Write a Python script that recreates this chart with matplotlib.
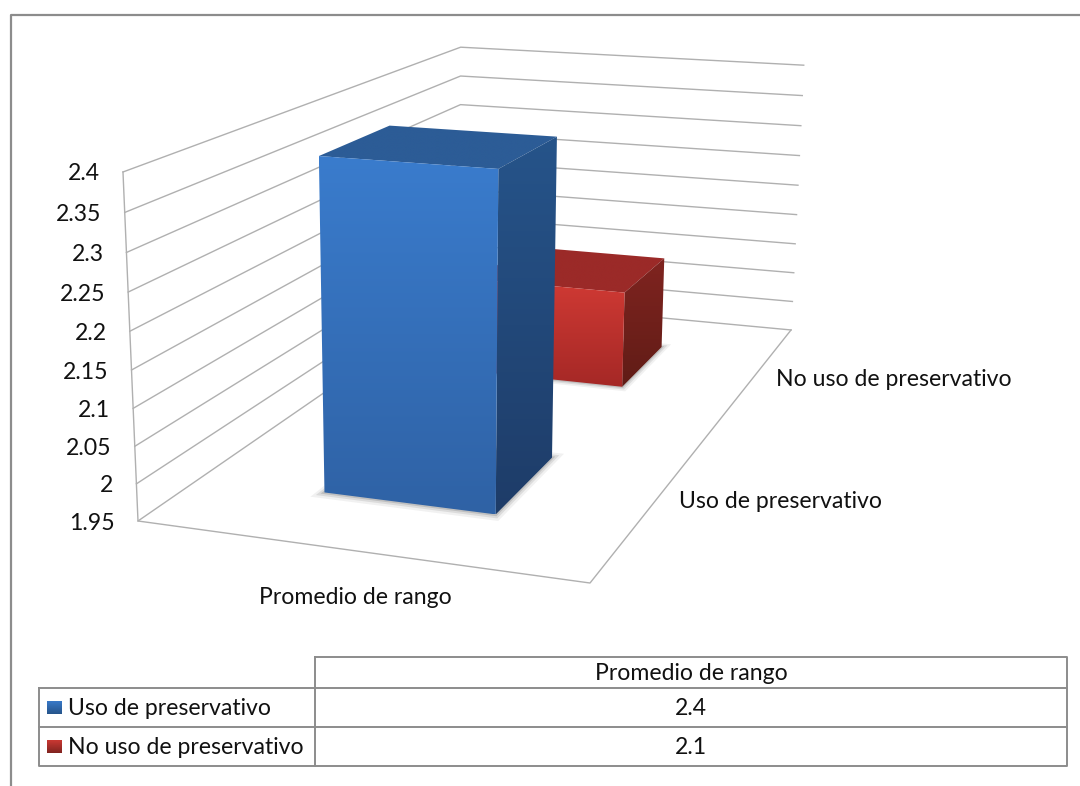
import numpy as np
import matplotlib
matplotlib.use('Agg')
import matplotlib.pyplot as plt
from matplotlib.patches import Polygon

plt.rcParams['font.family'] = ['Lato', 'DejaVu Sans']

series = ['Uso de preservativo', 'No uso de preservativo']
category = 'Promedio de rango'
values = [2.4, 2.1]
value_labels = ['2.4', '2.1']
axis_ticks = [1.95, 2.0, 2.05, 2.1, 2.15, 2.2, 2.25, 2.3, 2.35, 2.4]
axis_tick_labels = ['1.95', '2', '2.05', '2.1', '2.15', '2.2', '2.25', '2.3', '2.35', '2.4']

V_MIN, V_MAX = axis_ticks[0], axis_ticks[-1]

# perspective camera: (u, depth, height, 1) -> homogeneous canvas position
CAMERA = np.array([
    [409.3, 510.4, -20.8, 138.0],
    [19.8, -99.6, -357.1, 521.0],
    [-0.0724, 0.4095, -0.047, 1.0],
])


def project(u, d, v):
    w = (v - V_MIN) / (V_MAX - V_MIN)
    x, y, s = CAMERA @ np.array([u, d, w, 1.0])
    return x / s, y / s


def shaded_face(ax, corners, top_colour, bottom_colour, zorder):
    # vertical gradient clipped to a polygon
    corners = np.array(corners)
    top = np.array(top_colour) / 255
    bottom = np.array(bottom_colour) / 255
    grad = np.linspace(top, bottom, 256).reshape(256, 1, 3)
    face = Polygon(corners, closed=True, transform=ax.transData, fc='none', ec='none')
    ax.add_patch(face)
    im = ax.imshow(grad, extent=[corners[:, 0].min(), corners[:, 0].max(),
                                 corners[:, 1].max(), corners[:, 1].min()],
                   aspect='auto', interpolation='bilinear', zorder=zorder)
    im.set_clip_path(face)


def draw_bar(ax, value, depth, colours, zorder):
    u0, u1 = 0.30, 0.70
    d0, d1 = depth - 0.10, depth + 0.10

    # soft shadow on the floor
    for grow, alpha in [(0.018, 0.07), (0.011, 0.12), (0.005, 0.18)]:
        shadow = [project(u0 - grow, d0 - grow, V_MIN), project(u1 + grow, d0 - grow, V_MIN),
                  project(u1 + grow, d1 + grow, V_MIN), project(u0 - grow, d1 + grow, V_MIN)]
        ax.add_patch(Polygon(shadow, closed=True, fc='#404040', ec='none', alpha=alpha, zorder=zorder))

    front = [project(u0, d0, value), project(u1, d0, value),
             project(u1, d0, V_MIN), project(u0, d0, V_MIN)]
    side = [project(u1, d0, value), project(u1, d1, value),
            project(u1, d1, V_MIN), project(u1, d0, V_MIN)]
    top = [project(u0, d0, value), project(u1, d0, value),
           project(u1, d1, value), project(u0, d1, value)]
    shaded_face(ax, top, colours['top'], colours['top'], zorder + 0.1)
    shaded_face(ax, side, colours['side_hi'], colours['side_lo'], zorder + 0.1)
    shaded_face(ax, front, colours['front_hi'], colours['front_lo'], zorder + 0.2)


fig = plt.figure(figsize=(10.8, 7.86), dpi=100)
ax = fig.add_axes([0, 0, 1, 1])

GRID = '#b0b0b0'
BORDER = '#8c8c8c'
TEXT = '#111111'
FS = 16.6

# chart border, only the top and left edges are drawn
ax.plot([1080, 11, 11], [15, 15, 786], color=BORDER, lw=1.6, zorder=1)

# walls and floor
for tick in axis_ticks:
    pts = np.array([project(0, 0, tick), project(0, 1, tick), project(1, 1, tick)])
    ax.plot(pts[:, 0], pts[:, 1], color=GRID, lw=1.0, zorder=2)
pts = np.array([project(0, 0, V_MAX), project(0, 0, V_MIN), project(1, 0, V_MIN), project(1, 1, V_MIN)])
ax.plot(pts[:, 0], pts[:, 1], color=GRID, lw=1.0, zorder=2)

blue = {'top': (44, 92, 150), 'side_hi': (38, 84, 138), 'side_lo': (30, 60, 104),
        'front_hi': (58, 124, 205), 'front_lo': (47, 98, 165)}
red = {'top': (155, 42, 40), 'side_hi': (128, 36, 32), 'side_lo': (96, 28, 22),
       'front_hi': (208, 58, 52), 'front_lo': (165, 40, 38)}

draw_bar(ax, values[1], 0.75, red, 3)
draw_bar(ax, values[0], 0.25, blue, 4)

# value axis labels follow the slanted edge
for tick, label in zip(axis_ticks, axis_tick_labels):
    x, y = project(0, 0, tick)
    ax.text(x - 23, y + 2, label, ha='right', va='center', fontsize=FS, color=TEXT)

# category and depth labels
ax.text(355, 597, category, ha='center', va='center', fontsize=FS, color=TEXT)
ax.text(679, 502, series[0], ha='left', va='center', fontsize=FS, color=TEXT)
ax.text(776, 379, series[1], ha='left', va='center', fontsize=FS, color=TEXT)

# data table
tbl_left, tbl_key, tbl_right = 39, 315, 1067
tbl_rows = [657, 688, 727, 766]
ax.plot([tbl_key, tbl_right, tbl_right, tbl_key, tbl_key], [tbl_rows[0], tbl_rows[0], tbl_rows[3], tbl_rows[3], tbl_rows[0]],
        color=BORDER, lw=1.4, zorder=2)
ax.plot([tbl_left, tbl_right], [tbl_rows[1], tbl_rows[1]], color=BORDER, lw=1.4, zorder=2)
ax.plot([tbl_left, tbl_right], [tbl_rows[2], tbl_rows[2]], color=BORDER, lw=1.4, zorder=2)
ax.plot([tbl_left, tbl_left, tbl_key], [tbl_rows[1], tbl_rows[3], tbl_rows[3]], color=BORDER, lw=1.4, zorder=2)

mid = (tbl_key + tbl_right) / 2
ax.text(mid, 674, category, ha='center', va='center', fontsize=FS, color=TEXT)
keys = [blue, red]
for i in range(2):
    row_mid = (tbl_rows[i + 1] + tbl_rows[i + 2]) / 2
    ax.text(68, row_mid + 1, series[i], ha='left', va='center', fontsize=FS, color=TEXT)
    ax.text(mid, row_mid + 1, value_labels[i], ha='center', va='center', fontsize=FS, color=TEXT)
    k = [(47, row_mid - 7), (62, row_mid - 7), (62, row_mid + 7), (47, row_mid + 7)]
    shaded_face(ax, k, keys[i]['front_hi'], keys[i]['side_hi'], 3)

ax.set_xlim(0, 1080)
ax.set_ylim(786, 0)
ax.axis('off')

fig.savefig('out.png', dpi=100, facecolor='white')
